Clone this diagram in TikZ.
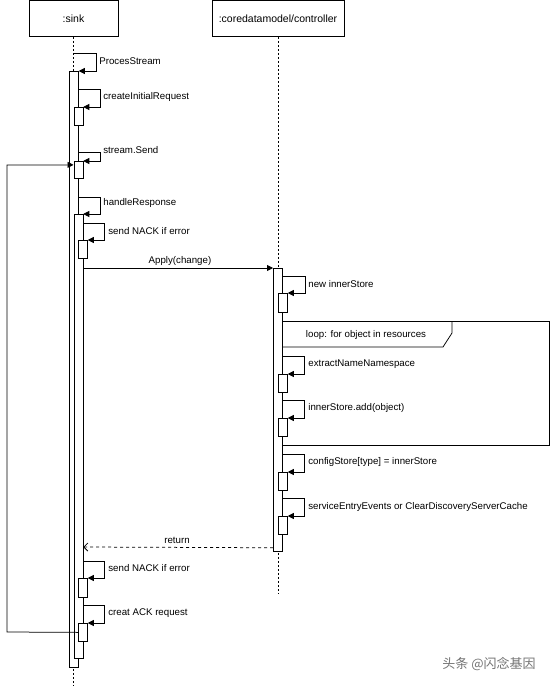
\documentclass[tikz,border=0pt]{standalone}
\usepackage{fontspec}
\setmainfont{Liberation Sans}
\newfontfamily\cjk{Noto Sans CJK SC}
\usetikzlibrary{arrows.meta, positioning}

\begin{document}
\begin{tikzpicture}[
    x=1pt, y=-1pt, line width=0.75pt,
    every node/.style={font=\fontsize{9.7}{11}\selectfont},
    head/.style={rectangle, draw, minimum height=36pt, inner sep=0pt, font=\fontsize{10.5}{12}\selectfont},
    act/.style={rectangle, draw, fill=white, minimum width=9pt, inner sep=0pt, anchor=north west},
    life/.style={dash pattern=on 2pt off 2pt},
    msg/.style={-{Triangle[length=6pt,width=6pt]}},
    ret/.style={dash pattern=on 3pt off 3pt, -{Straight Barb[length=4pt,width=8pt]}},
    lbl/.style={anchor=west, inner sep=0pt}
]
\useasboundingbox (0,0) rectangle (550,686);

% heads and lifelines
\node[head, minimum width=89pt] (sink) at (73.5,18.5) {:sink};
\node[head, minimum width=132pt] (ctrl) at (278,18.5) {:coredatamodel/controller};
\draw[life] (sink.south) -- (73.5,686);
\draw[life] (ctrl.south) -- (278,593);

% loop frame
\node[rectangle, draw, minimum width=267pt, minimum height=124pt, inner sep=0pt, anchor=north west] (loopfrm) at (282,321) {};
\draw (loopfrm.north west) ++(170,0) -- ++(0,12) -- ++(-9,14) -- (loopfrm.west |- 0,347);
\node (looplbl) at (366,335) {loop: for object in resources};

% activations
\node[act, minimum height=596pt] (sinkA) at (69,71) {};
\node[act, minimum height=18pt] (init) at (73.5,107) {};
\node[act, minimum height=17pt] (send) at (73.5,161) {};
\node[act, minimum height=444pt] (sinkB) at (73.5,214) {};
\node[act, minimum height=18pt] (nackA) at (78,240) {};
\node[act, minimum height=19pt] (nackB) at (78,578) {};
\node[act, minimum height=18pt] (ack) at (78,623) {};

\node[act, minimum height=283pt] (ctrlA) at (273,268) {};
\node[act, minimum height=19pt] (mkstore) at (278,293) {};
\node[act, minimum height=18pt] (extract) at (278,374) {};
\node[act, minimum height=18pt] (addobj) at (278,418) {};
\node[act, minimum height=18pt] (cfgstore) at (278,472) {};
\node[act, minimum height=18pt] (events) at (278,516) {};

% self calls on sink
\draw[msg] (sink.south |- 0,53) -| (96,71) -- (sinkA.north east);
\draw[msg] (sinkA.east |- 0,89) -| (100,107) -- (init.north east);
\draw[msg] (sinkA.east |- 0,152) -| (100,161) -- (send.north east);
\draw[msg] (sinkA.east |- 0,197) -| (100,214) -- (sinkB.north east);
\draw[msg] (sinkB.east |- 0,223) -| (104,240) -- (nackA.north east);
\draw[msg] (sinkB.east |- 0,561) -| (104,578) -- (nackB.north east);
\draw[msg] (sinkB.east |- 0,605) -| (104,623) -- (ack.north east);

\node[lbl] (lproc) at (99,61.5) {ProcesStream};
\node[lbl] (linit) at (103,97) {createInitialRequest};
\node[lbl] (lsend) at (103,150.5) {stream.Send};
\node[lbl] (lhandle) at (103,203) {handleResponse};
\node[lbl] (lnackA) at (108,231) {send NACK if error};
\node[lbl] (lnackB) at (108,568.5) {send NACK if error};
\node[lbl] (lack) at (108,613) {creat ACK request};

% calls between lifelines
\draw[msg] (sinkB.east |- ctrlA.north) -- (ctrlA.north west);
\node (lapply) at (180,261) {Apply(change)};
\draw[ret] ([yshift=4pt]ctrlA.south west) -- (sinkB.east |- 0,547);
\node (lret) at (177,540) {return};

% self calls on controller
\draw[msg] (ctrlA.east |- 0,276) -| (305,293) -- (mkstore.north east);
\draw[msg] (ctrlA.east |- 0,356) -| (304,374) -- (extract.north east);
\draw[msg] (ctrlA.east |- 0,400) -| (304,418) -- (addobj.north east);
\draw[msg] (ctrlA.east |- 0,454) -| (304,472) -- (cfgstore.north east);
\draw[msg] (ctrlA.east |- 0,498) -| (304,516) -- (events.north east);

\node[lbl] (lmk) at (308,284) {new innerStore};
\node[lbl] (lextract) at (308,364) {extractNameNamespace};
\node[lbl] (ladd) at (308,408) {innerStore.add(object)};
\node[lbl] (lcfg) at (308,462) {configStore[type] = innerStore};
\node[lbl] (levents) at (308,507) {serviceEntryEvents or ClearDiscoveryServerCache};

% loop back to stream.Send
\draw[msg] (ack.west) -- (7,632) |- ([yshift=5pt]send.west);

\node[text=black!55, font=\cjk\fontsize{13}{15}\selectfont] (wmark) at (489,664) {头条 @闪念基因};
\end{tikzpicture}
\end{document}
